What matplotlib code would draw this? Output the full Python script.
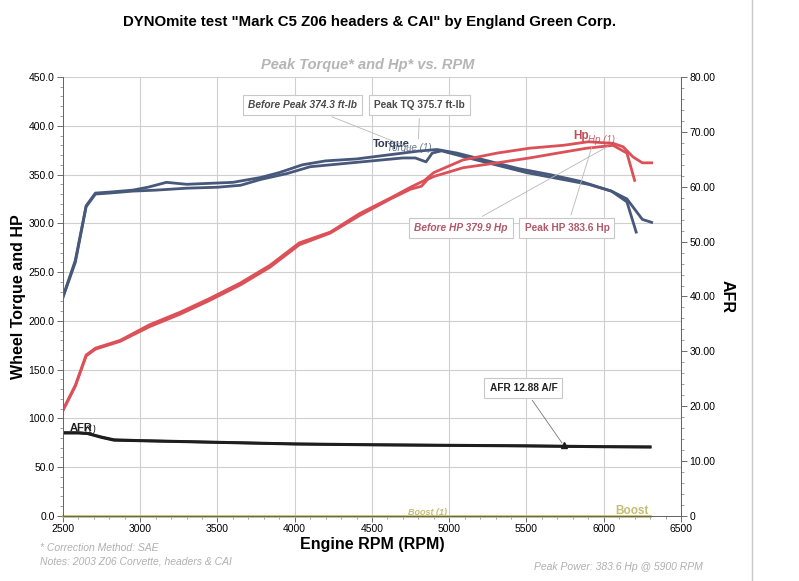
import matplotlib.pyplot as plt
from matplotlib.ticker import MultipleLocator, FormatStrFormatter

plt.rcParams["font.family"] = ["Liberation Sans", "DejaVu Sans"]

# Torque (ft-lb) runs
tq_after_rpm = [2500, 2580, 2650, 2710, 2800, 2950, 3050, 3170, 3300, 3450, 3600, 3780, 3900,
                4050, 4200, 4400, 4600, 4800, 4920, 5050, 5250, 5450, 5650, 5850, 6050, 6150,
                6250, 6310]
tq_after = [225, 262, 318, 331, 332, 334, 337, 342, 340, 341, 342, 347, 352,
            360, 364, 366, 370, 374, 375.7, 372, 364, 356, 350, 343, 333, 325,
            304, 301]
tq_before_rpm = [2500, 2580, 2650, 2710, 2800, 2950, 3100, 3300, 3500, 3650, 3780, 3950, 4100,
                 4300, 4500, 4700, 4780, 4850, 4890, 4950, 5100, 5300, 5500, 5700, 5900, 6050,
                 6150, 6210]
tq_before = [224, 260, 317, 330, 331, 333, 334, 336, 337, 339, 345, 351, 358,
             361, 364, 367, 367, 363, 372, 374.3, 368, 360, 352, 346, 340, 333,
             322, 291]

# Power (Hp) runs
hp_after_rpm = [2500, 2580, 2650, 2710, 2870, 3060, 3260, 3450, 3650, 3840, 4030, 4230, 4420,
                4620, 4750, 4840, 4900, 5090, 5310, 5520, 5740, 5900, 6060, 6125, 6190, 6250,
                6310]
hp_after = [109, 134, 165, 172, 180, 196, 209, 223, 239, 257, 280, 291, 310,
            326, 337, 344, 352, 365, 372, 377, 380, 383.6, 382, 378.5, 368, 362,
            362]
hp_before_rpm = [2500, 2580, 2650, 2710, 2870, 3060, 3260, 3450, 3650, 3840, 4030, 4230, 4420,
                 4620, 4750, 4820, 4860, 4900, 5090, 5310, 5520, 5740, 5890, 6060, 6150, 6200]
hp_before = [108, 133, 164, 171, 179, 194, 207, 221, 237, 255, 278, 290, 308,
             325, 335, 338, 345, 348, 357, 362, 367, 373, 377, 379.9, 372, 344]

# AFR runs
afr_rpm = [2500, 2600, 2660, 2750, 2830, 3000, 3500, 4000, 4500, 5000, 5500, 6000, 6300]
afr_after = [15.1, 15.1, 15.0, 14.3, 13.8, 13.7, 13.4, 13.1, 12.95, 12.85, 12.75, 12.6, 12.55]
afr_before = [15.2, 15.2, 15.05, 14.4, 13.9, 13.75, 13.45, 13.15, 13.0, 12.9, 12.8, 12.65, 12.6]

boost_rpm = [2500, 6300]
boost = [0, 0]

TQ_COLOR = "#48587a"
HP_COLOR = "#dc5058"
AFR_COLOR = "#1e1e1e"
BOOST_COLOR = "#c4bd72"

fig = plt.figure(figsize=(7.99, 5.81), dpi=100)
ax = fig.add_axes([0.0788, 0.1119, 0.7735, 0.7556])
ax2 = ax.twinx()

ax.plot(tq_before_rpm, tq_before, color=TQ_COLOR, lw=2.0)
ax.plot(tq_after_rpm, tq_after, color=TQ_COLOR, lw=2.0)
ax.plot(hp_before_rpm, hp_before, color=HP_COLOR, lw=2.0)
ax.plot(hp_after_rpm, hp_after, color=HP_COLOR, lw=2.0)
ax.plot(boost_rpm, boost, color=BOOST_COLOR, lw=2.0, clip_on=False)
ax2.plot(afr_rpm, afr_before, color=AFR_COLOR, lw=2.0)
ax2.plot(afr_rpm, afr_after, color=AFR_COLOR, lw=2.0)

ax.set_xlim(2500, 6500)
ax.set_ylim(0, 450)
ax2.set_ylim(0, 80)

ax.xaxis.set_major_locator(MultipleLocator(500))
ax.xaxis.set_minor_locator(MultipleLocator(100))
ax.yaxis.set_major_locator(MultipleLocator(50))
ax.yaxis.set_minor_locator(MultipleLocator(10))
ax.yaxis.set_major_formatter(FormatStrFormatter("%.1f"))
ax2.yaxis.set_major_locator(MultipleLocator(10))
ax2.yaxis.set_minor_locator(MultipleLocator(2))
ax2.yaxis.set_major_formatter(lambda v, p: "0" if v == 0 else f"{v:.2f}")

ax.grid(True, which="major", color="#cfcfcf", lw=0.8)
for a in (ax, ax2):
    a.tick_params(which="major", length=4, width=0.6, labelsize=7.5, pad=2, color="#555555")
    a.tick_params(which="minor", length=2, width=0.5, color="#777777")
    for s in a.spines.values():
        s.set_linewidth(0.7)
        s.set_color("#666666")
ax.spines["top"].set_visible(False)
ax2.spines["top"].set_visible(False)

ax.set_xlabel("Engine RPM (RPM)", fontsize=11.5, fontweight="bold", labelpad=2)
ax.set_ylabel("Wheel Torque and HP", fontsize=11.5, fontweight="bold", labelpad=2)
ax2.set_ylabel("AFR", fontsize=11.5, fontweight="bold", rotation=-90, labelpad=14)

fig.text(0.463, 0.962, 'DYNOmite test "Mark C5 Z06 headers & CAI" by England Green Corp.',
         ha="center", va="center", fontsize=10.8, fontweight="bold")
fig.text(0.46, 0.888, "Peak Torque* and Hp* vs. RPM", ha="center", va="center",
         fontsize=10.5, fontweight="bold", style="italic", color="#b5b5b5")

# Curve labels
ax.text(4506, 381, "Torque", fontsize=8, fontweight="bold", color="#2e3a50", va="center")
ax.text(4600, 377, "Torque (1)", fontsize=7, style="italic", color="#4e5c78", va="center", alpha=0.85)
ax.text(5800, 389, "Hp", fontsize=8.5, fontweight="bold", color="#c24b55", va="center")
ax.text(5900, 385, "Hp (1)", fontsize=7, style="italic", color="#c24b55", va="center", alpha=0.85)
ax.text(2545, 90, "AFR", fontsize=8, fontweight="bold", color=AFR_COLOR, va="center")
ax.text(2640, 88, "(1)", fontsize=7, style="italic", color=AFR_COLOR, va="center")
ax.text(4985, 4, "Boost (1)", fontsize=6.5, style="italic", color=BOOST_COLOR, ha="right", va="center",
        fontweight="bold")
ax.text(6183, 5, "Boost", fontsize=8.5, fontweight="bold", color=BOOST_COLOR, ha="center", va="center")

box = dict(boxstyle="square,pad=0.5", fc="white", ec="#c8c8c8", lw=0.8)
arrow = dict(arrowstyle="-", color="#b8b8b8", lw=0.6)
ax.annotate("Before Peak 374.3 ft-lb", xy=(4800, 374), xytext=(4053, 421), fontsize=7.3,
            style="italic", fontweight="bold", color="#4a4a4a", ha="center", va="center",
            bbox=box, arrowprops=arrow)
ax.annotate("Peak TQ 375.7 ft-lb", xy=(4800, 384), xytext=(4810, 421), fontsize=7.3,
            fontweight="bold", color="#4a4a4a", ha="center", va="center",
            bbox=box, arrowprops=arrow)
ax.annotate("Before HP 379.9 Hp", xy=(6040, 380), xytext=(5076, 295), fontsize=7.3,
            style="italic", fontweight="bold", color="#b25868", ha="center", va="center",
            bbox=box, arrowprops=arrow)
ax.annotate("Peak HP 383.6 Hp", xy=(5930, 382), xytext=(5762, 295), fontsize=7.3,
            fontweight="bold", color="#b25868", ha="center", va="center",
            bbox=box, arrowprops=arrow)
ax2.annotate("AFR 12.88 A/F", xy=(5740, 12.9), xytext=(5480, 23.4), fontsize=7.3,
             fontweight="bold", color="#222222", ha="center", va="center",
             bbox=box, arrowprops=dict(arrowstyle="-", color="#777777", lw=0.6))
ax2.plot([5740], [12.95], marker="^", color=AFR_COLOR, ms=4)

# Footer notes
fig.text(0.05, 0.057, "* Correction Method: SAE", fontsize=7.5, style="italic", color="#b0b0b0",
         va="center")
fig.text(0.05, 0.033, "Notes: 2003 Z06 Corvette, headers & CAI", fontsize=7.5, style="italic",
         color="#b0b0b0", va="center")
fig.text(0.88, 0.024, "Peak Power: 383.6 Hp @ 5900 RPM", fontsize=7.5, style="italic",
         color="#b0b0b0", ha="right", va="center")

# scanned page edge
fig.add_artist(plt.Line2D([0.941, 0.941], [0, 1], color="#c8c8c8", lw=1.0, transform=fig.transFigure))

fig.savefig("out.png", dpi=100)
